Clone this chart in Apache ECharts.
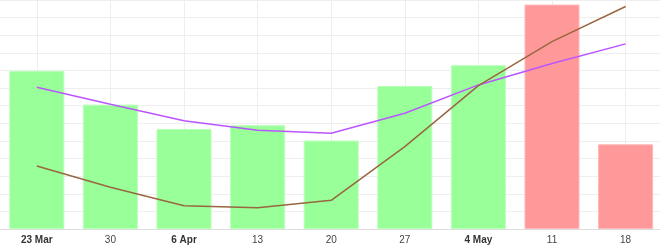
<!DOCTYPE html>
<html><head><meta charset="utf-8">
<script src="https://cdn.jsdelivr.net/npm/echarts@6/dist/echarts.min.js"></script>
<style>html,body{margin:0;padding:0;background:#fff}#c{width:660px;height:245px}</style>
</head><body><div id="c"></div>
<script>
var categories = ['23 Mar','30','6 Apr','13','20','27','4 May','11','18'];
var boldLabels = ['23 Mar','6 Apr','4 May'];
var barValues = [89.8, 70.6, 56.8, 58.9, 50.2, 81.2, 93.0, 127.4, 48.1];
var barUp = [true, true, true, true, true, true, true, false, false];
var purpleLine = [80.5, 70.8, 61.4, 56.1, 54.4, 65.7, 81.8, 94.0, 105.1];
var brownLine = [35.8, 23.7, 13.2, 12.1, 16.3, 46.8, 81.4, 106.4, 126.3];

var chart = echarts.init(document.getElementById('c'), null, {renderer:'canvas'});
chart.setOption({
  animation:false,
  grid:{left:0, width:662.4, top:0, bottom:16, containLabel:false, outerBoundsMode:'none'},
  xAxis:{type:'category', data:categories, boundaryGap:true,
    axisLine:{lineStyle:{color:'#dddddd'}}, axisTick:{show:false},
    splitLine:{show:false},
    axisLabel:{interval:0, fontSize:10, color:'#444', margin:6, fontFamily:'Liberation Sans',
      formatter:function(v){return boldLabels.indexOf(v)>=0?'{b|'+v+'}':v;},
      rich:{b:{fontWeight:'bold', fontSize:10, color:'#333', fontFamily:'Liberation Sans'}}}},
  yAxis:{type:'value', min:0, max:130, interval:10,
    axisLabel:{show:false}, axisLine:{show:false}, axisTick:{show:false},
    splitLine:{lineStyle:{color:'#eeeeee'}}},
  series:[
    {type:'line', data:[], z:1, silent:true,
      markLine:{silent:true, z:1, symbol:'none', label:{show:false},
        lineStyle:{color:'#eeeeee', type:'solid', width:1},
        data:categories.map(function(c){return {xAxis:c};})}},
    {type:'bar', z:2, barWidth:55, data:barValues.map(function(v,i){
      return {value:v, itemStyle:{color: barUp[i]?'#99ff99':'#ff9999', borderColor: barUp[i]?'#b8ffb8':'#ffb8b8', borderWidth:1}};
    })},
    {type:'line', z:3, data:purpleLine, symbol:'none', lineStyle:{color:'#bb55ff', width:1.5}},
    {type:'line', z:3, data:brownLine, symbol:'none', lineStyle:{color:'#996640', width:1.5}}
  ]
});
</script></body></html>
